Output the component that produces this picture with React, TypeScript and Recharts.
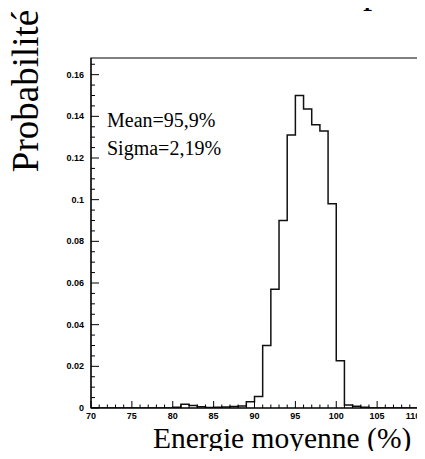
import { ComposedChart, Line, XAxis, YAxis, ReferenceArea } from "recharts";

// histogram bins (left edge, width 1) and their probabilities
const binStarts = [
  70, 71, 72, 73, 74, 75, 76, 77, 78, 79,
  80, 81, 82, 83, 84, 85, 86, 87, 88, 89,
  90, 91, 92, 93, 94, 95, 96, 97, 98, 99,
  100, 101, 102, 103, 104, 105, 106, 107, 108, 109,
];
const probabilities = [
  0, 0, 0, 0, 0, 0, 0, 0, 0, 0,
  0.0004, 0.0018, 0.0012, 0.0006, 0.0003, 0.0004, 0.0005, 0.0007, 0.001, 0.003,
  0.0055, 0.03, 0.057, 0.09, 0.131, 0.15, 0.1435, 0.136, 0.133, 0.098,
  0.0227, 0.0015, 0.0008, 0.0004, 0, 0, 0, 0, 0, 0,
];

const yMajorTicks = [0, 0.02, 0.04, 0.06, 0.08, 0.1, 0.12, 0.14, 0.16];
const statLines = ["Mean=95,9%", "Sigma=2,19%"];

const X_MIN = 70;
const X_MAX = 110;
const Y_MAX = 0.168;

// every unit gets a tick, every 5 a long one with a label
const xTicks = [...binStarts, X_MAX];
const yTicks = Array.from({ length: 34 }, (_, i) => +(i * 0.005).toFixed(3));
const isYMajor = (v: number) => yMajorTicks.includes(v);

const histogram = binStarts
  .map((x, i) => ({ x, p: probabilities[i] }))
  .concat({ x: X_MAX, p: probabilities[probabilities.length - 1] });

const serif = "'Liberation Serif', 'Times New Roman', serif";
const tickFont = { fontFamily: "'Liberation Sans', Arial, sans-serif", fontSize: 9, fontWeight: 700 };

const XTick = ({ x, y, payload }: any) => {
  const major = payload.value % 5 === 0;
  // last label sits on the page edge, nudge it in a bit
  const lx = payload.value === X_MAX ? x - 5 : x;
  return (
    <g>
      <line x1={x} x2={x} y1={y} y2={y - (major ? 7 : 3.5)} stroke="#000" />
      {major && (
        <text x={lx} y={y + 11} textAnchor="middle" {...tickFont} fill="#000">
          {payload.value}
        </text>
      )}
    </g>
  );
};

const YTick = ({ x, y, payload }: any) => {
  const major = isYMajor(payload.value);
  return (
    <g>
      <line x1={x} x2={x + (major ? 8 : 4)} y1={y} y2={y} stroke="#000" />
      {major && (
        <text x={x - 7} y={y + 3} textAnchor="end" {...tickFont} fill="#000">
          {String(payload.value)}
        </text>
      )}
    </g>
  );
};

export default function App() {
  return (
    <div style={{ position: "relative", width: 425, height: 459, margin: -8, background: "#fff" }}>
      <ComposedChart
        width={425}
        height={459}
        data={histogram}
        margin={{ top: 58, right: 7, bottom: 50, left: 90 }}
      >
        <XAxis
          dataKey="x"
          type="number"
          domain={[X_MIN, X_MAX]}
          allowDataOverflow
          ticks={xTicks}
          interval={0}
          height={1}
          tickSize={0}
          tickMargin={0}
          tickLine={false}
          axisLine={{ stroke: "#000" }}
          tick={<XTick />}
        />
        <YAxis
          type="number"
          domain={[0, Y_MAX]}
          allowDataOverflow
          ticks={yTicks}
          interval={0}
          width={1}
          tickSize={0}
          tickMargin={0}
          tickLine={false}
          axisLine={{ stroke: "#000" }}
          tick={<YTick />}
        />
        <ReferenceArea
          x1={X_MIN}
          x2={X_MAX}
          y1={0}
          y2={Y_MAX}
          fill="none"
          stroke="#000"
          strokeWidth={1.2}
          ifOverflow="visible"
        />
        <Line
          dataKey="p"
          type="stepAfter"
          stroke="#111"
          strokeWidth={1.5}
          dot={false}
          isAnimationActive={false}
        />
      </ComposedChart>
      <svg
        width={425}
        height={459}
        style={{ position: "absolute", left: 0, top: 0, pointerEvents: "none" }}
      >
        <text x={363} y={3} fontSize={37} fontFamily={serif}>p</text>
        <text
          x={38}
          y={91}
          fontSize={37}
          fontFamily={serif}
          textAnchor="middle"
          transform="rotate(-90 38 91)"
        >
          Probabilité
        </text>
        <text x={153} y={448} fontSize={29.5} fontFamily={serif}>
          Energie moyenne (%)
        </text>
        {statLines.map((s, i) => (
          <text key={s} x={107} y={127 + i * 27.5} fontSize={20} fontFamily={serif}>
            {s}
          </text>
        ))}
      </svg>
    </div>
  );
}
